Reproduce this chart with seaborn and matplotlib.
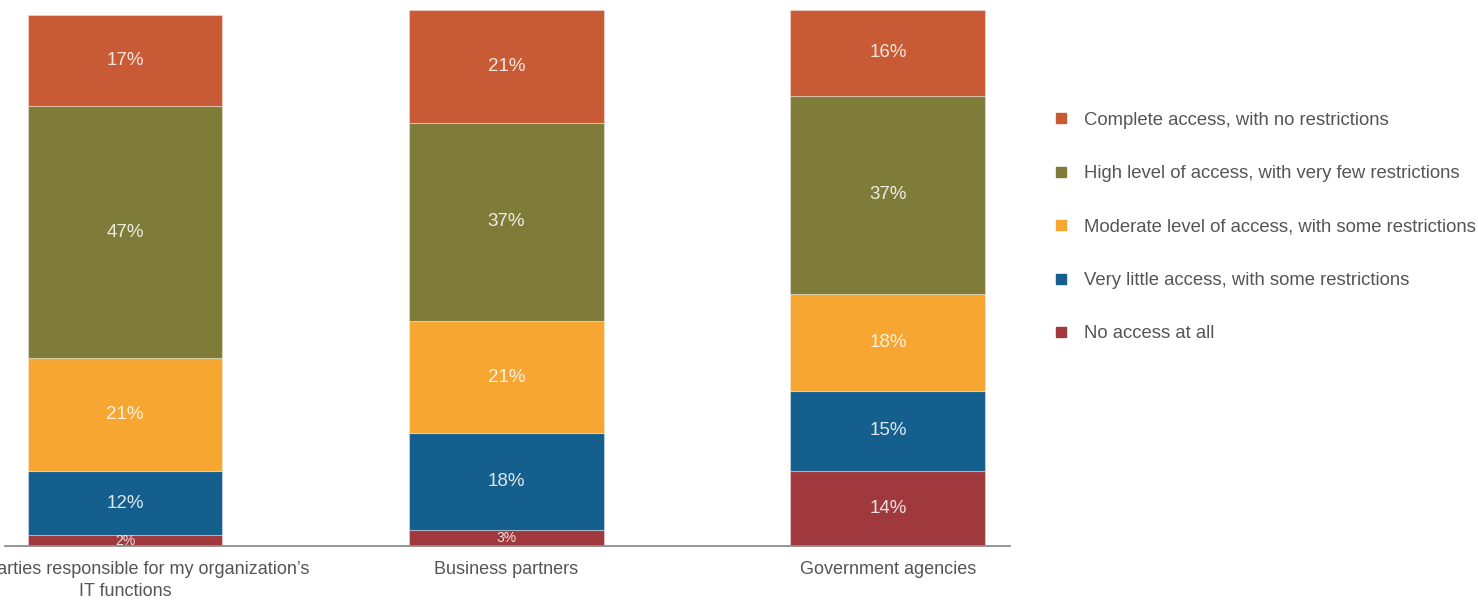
import matplotlib
matplotlib.use("Agg")
import matplotlib.pyplot as plt
from matplotlib.lines import Line2D
import numpy as np
import pandas as pd
import seaborn as sns

# Survey groups (x axis) and access levels (stack order, bottom to top)
groups = [
    "Third parties responsible for my organization\u2019s\nIT functions",
    "Business partners",
    "Government agencies",
]
levels = [
    "No access at all",
    "Very little access, with some restrictions",
    "Moderate level of access, with some restrictions",
    "High level of access, with very few restrictions",
    "Complete access, with no restrictions",
]
no_access = [2, 3, 14]
very_little = [12, 18, 15]
moderate = [21, 21, 18]
high = [47, 37, 37]
complete = [17, 21, 16]

colors = ["#A0393D", "#155F8E", "#F7A632", "#7F7C3A", "#C85B35"]
series = [no_access, very_little, moderate, high, complete]

sns.set_theme(style="white")
plt.rcParams["font.family"] = ["Liberation Sans", "DejaVu Sans"]

fig = plt.figure(figsize=(14.78, 6.0), dpi=100)
ax = fig.add_axes([5 / 1478, 54 / 600, 1005 / 1478, 536 / 600])

bottom = np.zeros(len(groups))
for name, vals, col in zip(levels, series, colors):
    df = pd.DataFrame({"group": groups, "value": vals})
    sns.barplot(data=df, x="group", y="value", order=groups, color=col,
                width=0.511, bottom=bottom.copy(), ax=ax,
                edgecolor=(1, 1, 1, 0.35), linewidth=0.8, saturation=1)
    for i, v in enumerate(vals):
        small = v < 5
        ax.text(i, bottom[i] + v / 2, f"{v}%", ha="center", va="center",
                color="white", alpha=0.85, fontsize=10 if small else 13.5)
    bottom += np.array(vals)

ax.set_xlim(-0.3145, 2.32)
ax.set_ylim(0, 100)
ax.set_xlabel("")
ax.set_ylabel("")
ax.set_yticks([])
ax.tick_params(axis="x", length=0, pad=10.5, labelsize=13, colors="#555555")
for lbl in ax.get_xticklabels():
    lbl.set_linespacing(1.45)
    lbl.set_multialignment("center")
for s in ["top", "right", "left"]:
    ax.spines[s].set_visible(False)
ax.spines["bottom"].set_color("#8c8c8c")
ax.spines["bottom"].set_linewidth(1.3)

handles = [Line2D([], [], marker="s", linestyle="", markersize=7,
                  markerfacecolor=c, markeredgecolor=c) for c in colors[::-1]]
fig.legend(handles, levels[::-1], loc="upper left",
           bbox_to_anchor=(1046 / 1478, 1 - 104.5 / 600), frameon=False,
           fontsize=13.3, labelcolor="#555555", labelspacing=1.97,
           handlelength=0.8, handletextpad=0.85, borderaxespad=0)

fig.savefig("out.png", dpi=100)
